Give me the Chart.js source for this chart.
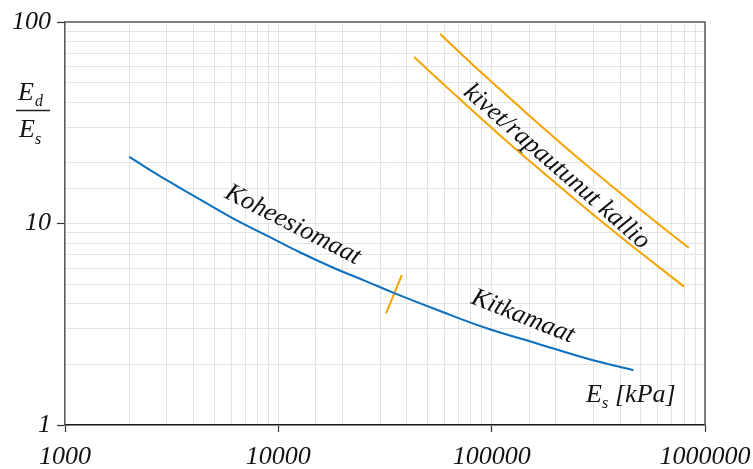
<!DOCTYPE html>
<html>
<head>
<meta charset="utf-8">
<script src="https://cdn.jsdelivr.net/npm/chart.js@4.4.1/dist/chart.umd.min.js"></script>
<style>
html,body{margin:0;padding:0;background:#fff;}
#wrap{width:753px;height:469px;}
</style>
</head>
<body>
<div id="wrap"><canvas id="c" width="753" height="469"></canvas></div>
<script>
// ---- data ----
const xTicks = [1000, 10000, 100000, 1000000];
const yTicks = [1, 10, 100];

// blue curve: Koheesiomaat / Kitkamaat  (Es [kPa], Ed/Es)
const soilEs    = [2000, 3000, 3980, 6130, 8850, 12600, 18000, 26000, 35200, 55300, 94800, 163000, 279000, 462000];
const soilRatio = [21.4, 16.4, 13.8, 10.6, 8.7, 7.2, 6.05, 5.15, 4.5, 3.73, 3.02, 2.54, 2.14, 1.87];

// orange band: kivet/rapautunut kallio
const rockUpperEs    = [57300, 90800, 143900, 228000, 361400, 572800, 841000];
const rockUpperRatio = [87.2, 55.3, 35.7, 23.3, 15.5, 10.4, 7.56];
const rockLowerEs    = [43300, 68550, 108600, 172200, 272900, 432500, 798000];
const rockLowerRatio = [67.0, 42.8, 27.6, 18.1, 12.0, 8.07, 4.86];

// orange boundary mark between cohesive and frictional soils
const boundaryEs    = [37900, 32000];
const boundaryRatio = [5.55, 3.58];

// text labels (data positions)
const labels = [
  {text: 'Koheesiomaat', x: 11700, y: 9.85, angle: 27},
  {text: 'Kitkamaat', x: 140000, y: 3.45, angle: 21.6},
  {text: 'kivet/rapautunut kallio', x: 201800, y: 19.1, angle: 41}
];

const pts = (xs, ys) => xs.map((x, i) => ({x: x, y: ys[i]}));
const BLUE = '#0a70bf';
const ORANGE = '#f5a300';
const FONT = '"Liberation Serif", "Times New Roman", serif';

const isMajor = v => {
  const l = Math.log10(v);
  return Math.abs(l - Math.round(l)) < 1e-9;
};

const annotations = {
  id: 'annotations',
  afterDatasetsDraw(chart) {
    const ctx = chart.ctx;
    const a = chart.chartArea;
    const xs = chart.scales.x, ys = chart.scales.y;
    ctx.save();
    // top and right frame
    ctx.strokeStyle = '#5a5a5a';
    ctx.lineWidth = 1.5;
    ctx.beginPath();
    ctx.moveTo(a.left, a.top);
    ctx.lineTo(a.right, a.top);
    ctx.lineTo(a.right, a.bottom);
    ctx.stroke();

    ctx.fillStyle = '#111';
    ctx.textAlign = 'center';
    ctx.textBaseline = 'middle';
    ctx.font = 'italic 26px ' + FONT;
    labels.forEach(l => {
      ctx.save();
      ctx.translate(xs.getPixelForValue(l.x), ys.getPixelForValue(l.y));
      ctx.rotate(l.angle * Math.PI / 180);
      ctx.fillText(l.text, 0, 0);
      ctx.restore();
    });

    // x-axis title  E_s [kPa]
    ctx.textAlign = 'left';
    ctx.textBaseline = 'alphabetic';
    const bx = 586, by = 402;
    ctx.font = 'italic 26px ' + FONT;
    ctx.fillText('E', bx, by);
    ctx.font = 'italic 16px ' + FONT;
    ctx.fillText('s', bx + 16, by + 6);
    ctx.font = 'italic 26px ' + FONT;
    ctx.fillText('[kPa]', bx + 29, by);

    // y-axis title  Ed / Es
    ctx.font = 'italic 26px ' + FONT;
    ctx.fillText('E', 18, 100);
    ctx.font = 'italic 16px ' + FONT;
    ctx.fillText('d', 35, 106);
    ctx.strokeStyle = '#222';
    ctx.lineWidth = 1.5;
    ctx.beginPath();
    ctx.moveTo(16, 110.5);
    ctx.lineTo(50, 110.5);
    ctx.stroke();
    ctx.font = 'italic 26px ' + FONT;
    ctx.fillText('E', 19, 137);
    ctx.font = 'italic 16px ' + FONT;
    ctx.fillText('s', 35, 144);
    ctx.restore();
  }
};

const lineDs = (data, color) => ({
  data: data,
  borderColor: color,
  borderWidth: 2,
  pointRadius: 0,
  fill: false,
  tension: 0.4
});

function draw() {
  new Chart(document.getElementById('c'), {
    type: 'line',
    data: {
      datasets: [
        lineDs(pts(soilEs, soilRatio), BLUE),
        lineDs(pts(rockUpperEs, rockUpperRatio), ORANGE),
        lineDs(pts(rockLowerEs, rockLowerRatio), ORANGE),
        Object.assign(lineDs(pts(boundaryEs, boundaryRatio), ORANGE), {tension: 0})
      ]
    },
    options: {
      responsive: false,
      animation: false,
      events: [],
      layout: {padding: {top: 22, right: 48, left: 0, bottom: 0}},
      plugins: {legend: {display: false}, tooltip: {enabled: false}, title: {display: false}},
      scales: {
        x: {
          type: 'logarithmic',
          min: xTicks[0],
          max: xTicks[xTicks.length - 1],
          afterFit: s => { s.height = 44; s.paddingLeft = 0; s.paddingRight = 0; },
          grid: {
            color: '#e4e4e4',
            lineWidth: 1,
            drawTicks: true,
            tickLength: 7,
            tickColor: c => (c.tick && isMajor(c.tick.value)) ? '#333' : 'rgba(0,0,0,0)',
            tickWidth: 1.2
          },
          border: {display: true, color: '#1a1a1a', width: 1.5},
          ticks: {
            autoSkip: false,
            maxRotation: 0,
            padding: 10,
            color: '#111',
            font: {family: FONT, size: 26, style: 'italic'},
            callback: v => (isMajor(v) && xTicks.includes(Math.round(v))) ? String(Math.round(v)) : ''
          }
        },
        y: {
          type: 'logarithmic',
          min: yTicks[0],
          max: yTicks[yTicks.length - 1],
          afterFit: s => { s.width = 65; s.paddingTop = 0; s.paddingBottom = 0; },
          grid: {
            color: '#e4e4e4',
            lineWidth: 1,
            drawTicks: true,
            tickLength: 8,
            tickColor: c => (c.tick && isMajor(c.tick.value)) ? '#333' : 'rgba(0,0,0,0)',
            tickWidth: 1.2
          },
          border: {display: true, color: '#5a5a5a', width: 1.5},
          ticks: {
            autoSkip: false,
            padding: 6,
            color: '#111',
            font: {family: FONT, size: 26, style: 'italic'},
            callback: v => (isMajor(v) && yTicks.includes(Math.round(v))) ? String(Math.round(v)) : ''
          }
        }
      }
    },
    plugins: [annotations]
  });
}

if (document.fonts && document.fonts.load) {
  Promise.all([
    document.fonts.load('italic 26px "Liberation Serif"'),
    document.fonts.load('italic 16px "Liberation Serif"')
  ]).then(draw, draw);
} else {
  draw();
}
</script>
</body>
</html>
